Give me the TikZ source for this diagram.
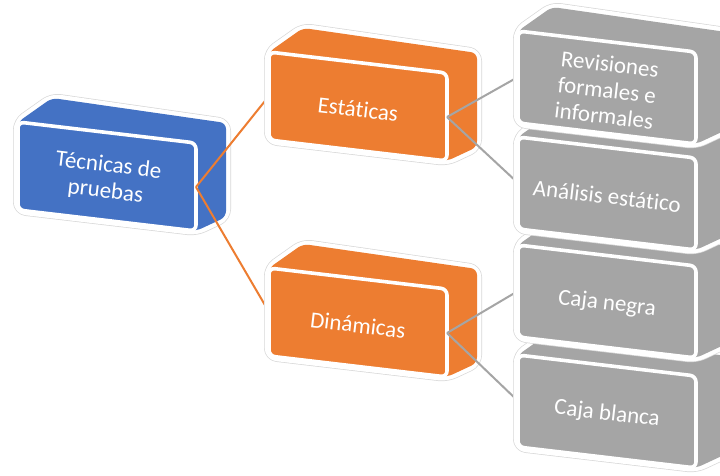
\documentclass[tikz,border=0pt]{standalone}
\usepackage{fontspec}
\setmainfont{Carlito}[Ligatures=NoCommon]
\definecolor{cblue}{HTML}{4472C4}
\definecolor{corange}{HTML}{ED7D31}
\definecolor{cgray}{HTML}{A5A5A5}
\definecolor{cglow}{HTML}{D8D8D8}
\tikzset{
  glowline/.style={line width=10pt, draw=cglow, rounded corners=8pt, line join=round},
  glowwhite/.style={line width=8.6pt, draw=white, rounded corners=8pt, line join=round},
  bodyfill/.style={rounded corners=6pt},
  frontface/.style={line width=3.6pt, draw=white, rounded corners=6pt},
  lbl/.style={text=white, align=center, font=\fontsize{23}{26}\selectfont, inner sep=0pt, rotate=-6.7},
  conn/.style={line width=2pt},
}
% name, x, y, colour, front height, text
\newcommand\cubebox[6]{%
  \begin{scope}[shift={(#2,#3)}]
    \draw[glowline] (0,0) -- (34,-24) -- (208,1) -- (208,#5+7) -- (178,#5+21) -- (0,#5) -- cycle;
    \draw[glowwhite] (0,0) -- (34,-24) -- (208,1) -- (208,#5+7) -- (178,#5+21) -- (0,#5) -- cycle;
    \fill[bodyfill, #4] (0,0) -- (34,-24) -- (208,1) -- (208,#5+7) -- (178,#5+21) -- (0,#5) -- cycle;
    \filldraw[frontface, fill=#4] (0,0) -- (178,21) -- (178,#5+21) -- (0,#5) -- cycle;
    \node[lbl] (#1) at (89,#5/2+13) {#6};
    \coordinate (#1-l) at (0,#5/2);
    \coordinate (#1-r) at (178,#5/2+21);
  \end{scope}}
\begin{document}
\begin{tikzpicture}[x=1pt,y=-1pt]
  \useasboundingbox (0,0) rectangle (720,476);
  \clip (0,0) rectangle (720,476);
  \fill[white] (0,0) rectangle (720,476);
  \cubebox{tec}{18}{122}{cblue}{88}{Técnicas de\\pruebas}
  \draw[conn, corange] (tec-r) -- (269,96);
  \draw[conn, corange] (tec-r) -- (269,312);
  \cubebox{est}{269}{52}{corange}{88}{Estáticas}
  \cubebox{din}{269}{268}{corange}{88}{Dinámicas}
  \draw[conn, cgray] (est-r) -- (518,77);
  \draw[conn, cgray] (est-r) -- (518,183);
  \draw[conn, cgray] (din-r) -- (518,291);
  \draw[conn, cgray] (din-r) -- (518,401);
  \cubebox{bla}{518}{355}{cgray}{92}{Caja blanca}
  \cubebox{neg}{518}{245}{cgray}{92}{Caja negra}
  \cubebox{ana}{518}{137}{cgray}{92}{Análisis estático}
  \cubebox{rev}{518}{31}{cgray}{92}{Revisiones\\formales e\\informales}
\end{tikzpicture}
\end{document}
